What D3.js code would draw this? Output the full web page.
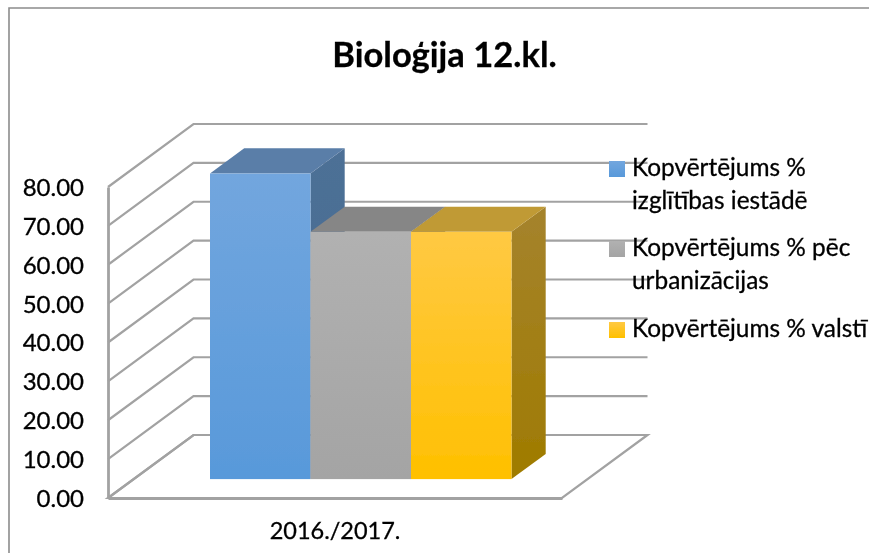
<!DOCTYPE html>
<html><head><meta charset="utf-8">
<script src="https://cdn.jsdelivr.net/npm/d3@7"></script>
<style>html,body{margin:0;padding:0;background:#fff}svg{display:block}text{font-family:Lato,"Open Sans",sans-serif;fill:#000;stroke:#000;stroke-width:0.3px}</style>
</head><body><div id="c"></div>
<script>
const chartTitle = "Bioloģija 12.kl.";
const categories = ["2016./2017."];
const seriesNames = ["Kopvērtējums % izglītības iestādē","Kopvērtējums % pēc urbanizācijas","Kopvērtējums % valstī"];
const legendLines = [["Kopvērtējums %","izglītības iestādē"],["Kopvērtējums % pēc","urbanizācijas"],["Kopvērtējums % valstī"]];
const seriesValues = [78.6, 63.6, 63.6];
const tickValues = [0,10,20,30,40,50,60,70,80];
const faceTop = ["#72a6de","#b1b1b1","#ffc943"];
const faceBottom = ["#5899da","#a4a4a4","#ffc000"];
const topColors = ["#5a7ea8","#868686","#c09a36"];
const sideTop = ["#4d7096","#747474","#a5832d"];
const sideBottom = ["#45688f","#6e6e6e","#9f7b00"];

const W = 869, H = 553;
const svg = d3.select("#c").append("svg").attr("width",W).attr("height",H);
const defs = svg.append("defs");
defs.append("filter").attr("id","soft").attr("filterUnits","userSpaceOnUse").attr("x",0).attr("y",0).attr("width",W).attr("height",H)
  .append("feGaussianBlur").attr("stdDeviation",0.65);
const root = svg.append("g").attr("filter","url(#soft)");
root.append("rect").attr("width",W).attr("height",H).attr("fill","#fff");

// chart frame
root.append("path").attr("d",`M9,${H}V8H${W}`).attr("fill","none").attr("stroke","#8c8c8c").attr("stroke-width",1.6);

root.append("text").attr("x",444.5).attr("y",67).attr("text-anchor","middle")
  .attr("font-size",34.5).attr("font-weight",700).text(chartTitle);

const y = d3.scaleLinear().domain([0,80]).range([498,187]);
const floorX = d3.scaleLinear().domain([0,1]).range([108,562]);
const depthX = d3.scaleLinear().domain([0,1]).range([0,85.5]);
const depthY = d3.scaleLinear().domain([0,1]).range([0,-63]);
const bandX = d3.scaleBand().domain(seriesNames).range([210,511.5]).padding(0);
const catX = d3.scaleBand().domain(categories).range([108,562]);
const gridColor = "#a2a2a2";

// floor
const P = (fx,v,d)=>[floorX(fx)+depthX(d), y(v)+depthY(d)];
root.append("path")
  .attr("d",d3.line()([P(0,0,0),P(0,0,1),P(1,0,1),P(1,0,0)])+"Z")
  .attr("fill","#fff").attr("stroke",gridColor).attr("stroke-width",2.2);

// gridlines on side and back walls
root.append("g").selectAll("path").data(tickValues).join("path")
  .attr("d",v=>d3.line()([P(0,v,0),P(0,v,1),P(1,v,1)]))
  .attr("fill","none").attr("stroke",gridColor).attr("stroke-width",2.2);

// value axis
const yAxis = root.append("g").attr("transform","translate(108,0)")
  .call(d3.axisLeft(y).tickValues(tickValues).tickFormat(d3.format(".2f")).tickSize(0).tickPadding(24));
yAxis.select(".domain").attr("stroke","#a2a2a2").attr("stroke-width",2.8);
yAxis.selectAll("text").attr("font-size",24).attr("dy","0.35em").style("font-family","Lato");

// category axis
const xAxis = root.append("g").attr("transform","translate(0,498)")
  .call(d3.axisBottom(catX).tickSize(0).tickPadding(24));
xAxis.select(".domain").attr("stroke","#a2a2a2").attr("stroke-width",2.8);
xAxis.selectAll("text").attr("font-size",23.5).style("font-family","Lato");

// gradients
seriesNames.forEach((s,i)=>{
  const g=defs.append("linearGradient").attr("id","f"+i).attr("x1",0).attr("y1",0).attr("x2",0).attr("y2",1);
  g.append("stop").attr("offset",0).attr("stop-color",faceTop[i]);
  g.append("stop").attr("offset",1).attr("stop-color",faceBottom[i]);
  const h=defs.append("linearGradient").attr("id","s"+i).attr("x1",0).attr("y1",0).attr("x2",0).attr("y2",1);
  h.append("stop").attr("offset",0).attr("stop-color",sideTop[i]);
  h.append("stop").attr("offset",1).attr("stop-color",sideBottom[i]);
});

// bars
const barFront = 0.30, barDepth = 0.40;
const ln = d3.line();
const bars = root.append("g").selectAll("g").data(seriesNames).join("g");
bars.each(function(s,k){
  const g = d3.select(this);
  const v = seriesValues[k];
  const x0 = bandX(s), x1 = x0 + bandX.bandwidth();
  const oy = depthY(barFront);
  const yB = y(0)+oy, yT = y(v)+oy;
  const dx = depthX(barDepth), dy = depthY(barDepth);
  g.append("path").attr("d",ln([[x1,yT],[x1+dx,yT+dy],[x1+dx,yB+dy],[x1,yB]])+"Z").attr("fill",`url(#s${k})`);
  g.append("path").attr("d",ln([[x0,yT],[x0+dx,yT+dy],[x1+dx,yT+dy],[x1,yT]])+"Z").attr("fill",topColors[k]);
  g.append("rect").attr("x",x0).attr("y",yT).attr("width",x1-x0).attr("height",yB-yT).attr("fill",`url(#f${k})`);
});

// legend
const legendTop = [161,241,322];
const leg = root.append("g").selectAll("g").data(seriesNames).join("g");
leg.each(function(s,i){
  const g=d3.select(this);
  g.append("rect").attr("x",609).attr("y",legendTop[i]).attr("width",16).attr("height",16).attr("fill",`url(#f${i})`);
  legendLines[i].forEach((t,j)=>{
    g.append("text").attr("x",632).attr("y",legendTop[i]+15+j*32.5).attr("font-size",24.4).text(t);
  });
});
</script></body></html>
